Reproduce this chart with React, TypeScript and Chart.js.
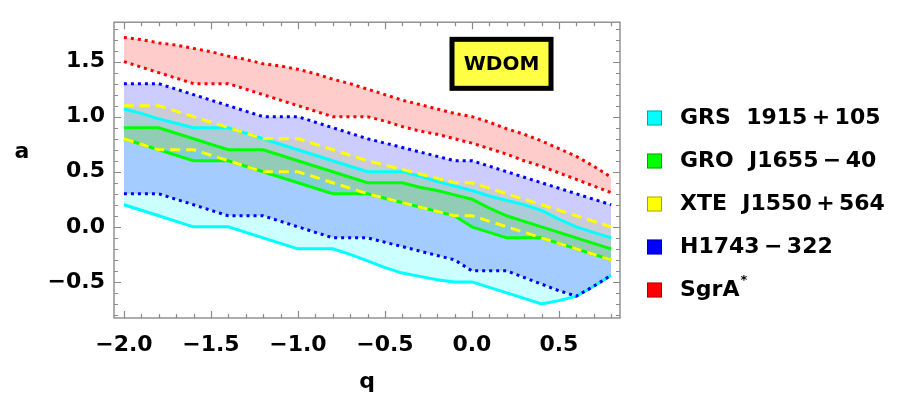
import React, { useEffect, useRef } from 'react';
import { Chart, registerables } from 'chart.js';

Chart.register(...registerables);

// ---------------- data ----------------
const qValues = [-2.0, -1.9, -1.8, -1.7, -1.6, -1.5, -1.4, -1.3, -1.2, -1.1, -1.0, -0.9, -0.8, -0.7, -0.6, -0.5, -0.4, -0.3, -0.2, -0.1, 0.0, 0.1, 0.2, 0.3, 0.4, 0.5, 0.6, 0.7, 0.8];

const grsUpper = [1.07, 1.03, 0.98, 0.94, 0.9, 0.9, 0.9, 0.85, 0.8, 0.75, 0.7, 0.65, 0.6, 0.55, 0.5, 0.5, 0.5, 0.46, 0.41, 0.37, 0.33, 0.28, 0.24, 0.2, 0.15, 0.07, 0.0, -0.05, -0.1];
const grsLower = [0.2, 0.15, 0.1, 0.05, 0.0, 0.0, 0.0, -0.05, -0.1, -0.15, -0.2, -0.2, -0.2, -0.25, -0.31, -0.37, -0.42, -0.45, -0.48, -0.5, -0.5, -0.55, -0.6, -0.65, -0.7, -0.67, -0.63, -0.54, -0.44];

const groUpper = [0.9, 0.9, 0.9, 0.85, 0.8, 0.75, 0.7, 0.7, 0.7, 0.65, 0.6, 0.55, 0.5, 0.45, 0.4, 0.4, 0.4, 0.36, 0.33, 0.29, 0.25, 0.17, 0.1, 0.05, 0.0, -0.05, -0.1, -0.15, -0.2];
const groLower = [0.8, 0.75, 0.7, 0.65, 0.6, 0.6, 0.6, 0.55, 0.5, 0.45, 0.4, 0.35, 0.3, 0.3, 0.3, 0.26, 0.22, 0.18, 0.14, 0.1, 0.0, -0.05, -0.1, -0.1, -0.1, -0.15, -0.2, -0.25, -0.3];

const xteUpper = [1.1, 1.1, 1.1, 1.05, 1.0, 0.95, 0.9, 0.85, 0.8, 0.8, 0.8, 0.75, 0.7, 0.65, 0.6, 0.56, 0.52, 0.48, 0.44, 0.4, 0.4, 0.35, 0.3, 0.25, 0.2, 0.15, 0.1, 0.05, 0.0];
const xteLower = [0.8, 0.75, 0.7, 0.7, 0.7, 0.65, 0.6, 0.55, 0.5, 0.5, 0.5, 0.45, 0.4, 0.35, 0.3, 0.26, 0.22, 0.18, 0.14, 0.1, 0.1, 0.05, 0.0, -0.05, -0.1, -0.15, -0.2, -0.25, -0.3];

const h1743Upper = [1.3, 1.3, 1.3, 1.25, 1.2, 1.15, 1.1, 1.05, 1.0, 1.0, 1.0, 0.95, 0.9, 0.85, 0.8, 0.76, 0.72, 0.68, 0.64, 0.6, 0.6, 0.55, 0.5, 0.45, 0.4, 0.35, 0.3, 0.25, 0.2];
const h1743Lower = [0.3, 0.3, 0.3, 0.25, 0.2, 0.15, 0.1, 0.1, 0.1, 0.05, 0.0, -0.05, -0.1, -0.1, -0.1, -0.14, -0.18, -0.22, -0.26, -0.3, -0.4, -0.4, -0.4, -0.46, -0.52, -0.58, -0.63, -0.54, -0.44];

const sgrUpper = [1.72, 1.7, 1.67, 1.65, 1.62, 1.59, 1.55, 1.52, 1.48, 1.46, 1.43, 1.39, 1.34, 1.3, 1.25, 1.2, 1.15, 1.11, 1.07, 1.03, 1.0, 0.95, 0.89, 0.84, 0.78, 0.71, 0.64, 0.55, 0.45];
const sgrLower = [1.5, 1.45, 1.4, 1.35, 1.3, 1.3, 1.3, 1.25, 1.2, 1.15, 1.1, 1.05, 1.0, 1.0, 1.0, 0.96, 0.91, 0.87, 0.84, 0.8, 0.76, 0.71, 0.66, 0.6, 0.55, 0.49, 0.43, 0.37, 0.31];

const legendNames = ['GRS  1915\u2009+\u2009105', 'GRO  J1655\u2009\u2212\u200940', 'XTE  J1550\u2009+\u2009564', 'H1743\u2009\u2212\u2009322', 'SgrA'];
const legendColors = ['#00FFFF', '#00FF00', '#FFFF00', '#0000FF', '#FF0000'];
const fillColors = ['rgba(0,255,255,0.2)', 'rgba(0,255,0,0.2)', 'rgba(255,255,0,0.2)', 'rgba(0,0,255,0.2)', 'rgba(255,0,0,0.2)'];

const xTitle = 'q';
const yTitle = 'a';
const boxLabel = 'WDOM';

const FONT = '"DejaVu Sans", sans-serif';

function pts(arr: number[]) {
  return arr.map((a, i) => ({ x: qValues[i], y: a }));
}

function band(idx: number, upper: number[], lower: number[], dash: number[]) {
  const common = {
    borderColor: legendColors[idx],
    borderWidth: 3,
    borderDash: dash,
    borderCapStyle: 'butt' as const,
    pointRadius: 0,
    tension: 0,
  };
  return [
    { ...common, label: legendNames[idx], data: pts(upper), backgroundColor: fillColors[idx], fill: '+1' },
    { ...common, label: legendNames[idx] + ' (lower)', data: pts(lower), fill: false },
  ];
}

const fmt = (v: number) => {
  const r = Math.round(v * 10) / 10;
  const s = Math.abs(r).toFixed(1);
  return r < 0 ? '\u2212' + s : s;
};

const decor = {
  id: 'decor',
  afterDatasetsDraw(chart: any) {
    const { ctx, chartArea: ca, scales } = chart;
    const xs = scales.x;
    const ys = scales.y;
    ctx.save();
    ctx.strokeStyle = '#8a8a8a';
    ctx.lineWidth = 1.4;
    ctx.strokeRect(ca.left, ca.top, ca.right - ca.left, ca.bottom - ca.top);
    ctx.lineWidth = 1.2;
    ctx.beginPath();
    for (let i = -20; i <= 8; i++) {
      const px = Math.round(xs.getPixelForValue(i / 10)) + 0.5;
      const len = i % 5 === 0 ? 7 : 4;
      ctx.moveTo(px, ca.bottom);
      ctx.lineTo(px, ca.bottom - len);
      ctx.moveTo(px, ca.top);
      ctx.lineTo(px, ca.top + len);
    }
    for (let i = -8; i <= 18; i++) {
      const py = Math.round(ys.getPixelForValue(i / 10)) + 0.5;
      const len = i % 5 === 0 ? 7 : 4;
      ctx.moveTo(ca.left, py);
      ctx.lineTo(ca.left + len, py);
      ctx.moveTo(ca.right, py);
      ctx.lineTo(ca.right - len, py);
    }
    ctx.stroke();

    // WDOM box
    const cx = xs.getPixelForValue(0.17);
    const cy = ys.getPixelForValue(1.48);
    const bw = 104;
    const bh = 54;
    ctx.fillStyle = '#000000';
    ctx.fillRect(cx - bw / 2, cy - bh / 2, bw, bh);
    ctx.fillStyle = '#FFFF44';
    ctx.fillRect(cx - bw / 2 + 5, cy - bh / 2 + 5, bw - 10, bh - 10);
    ctx.fillStyle = '#000000';
    ctx.font = `bold 20px ${FONT}`;
    ctx.textAlign = 'center';
    ctx.textBaseline = 'middle';
    ctx.fillText(boxLabel, cx, cy + 1);
    ctx.restore();
  },
  afterDraw(chart: any) {
    const { ctx, chartArea: ca } = chart;
    ctx.save();
    ctx.fillStyle = '#000000';
    ctx.font = `bold 22px ${FONT}`;
    ctx.textAlign = 'center';
    ctx.textBaseline = 'middle';
    ctx.fillText(xTitle, (ca.left + ca.right) / 2, 382);
    ctx.fillText(yTitle, 22, 152);

    // legend
    const x0 = ca.right + 27;
    const rowY = 118;
    const step = 43;
    legendNames.forEach((name, i) => {
      const y = rowY + i * step;
      ctx.fillStyle = legendColors[i];
      ctx.fillRect(x0, y - 7.5, 15, 15);
      ctx.strokeStyle = 'rgba(0,0,0,0.35)';
      ctx.lineWidth = 1;
      ctx.strokeRect(x0 + 0.5, y - 7, 14, 14);
      ctx.fillStyle = '#000000';
      ctx.font = `bold 22px ${FONT}`;
      ctx.textAlign = 'left';
      ctx.textBaseline = 'middle';
      ctx.fillText(name, x0 + 33, y);
      if (i === 4) {
        const w = ctx.measureText(name).width;
        ctx.font = `bold 13px ${FONT}`;
        ctx.fillText('*', x0 + 33 + w + 1, y - 9);
      }
    });
    ctx.restore();
  },
};

export default function App() {
  const ref = useRef<HTMLCanvasElement>(null);
  useEffect(() => {
    if (!ref.current) return;
    Chart.defaults.font.family = FONT;
    const datasets = [
      ...band(4, sgrUpper, sgrLower, [3, 4]),
      ...band(3, h1743Upper, h1743Lower, [3, 4]),
      ...band(2, xteUpper, xteLower, [10, 6]),
      ...band(1, groUpper, groLower, []),
      ...band(0, grsUpper, grsLower, []),
    ];
    const chart = new Chart(ref.current, {
      type: 'line',
      data: { datasets: datasets as any },
      options: {
        animation: false,
        responsive: true,
        maintainAspectRatio: false,
        layout: { padding: { left: 0, top: 5, right: 279, bottom: 0 } },
        plugins: {
          legend: { display: false },
          tooltip: { enabled: false },
          filler: { propagate: false, drawTime: 'beforeDatasetsDraw' },
        } as any,
        scales: {
          x: {
            type: 'linear',
            min: -2.057,
            max: 0.851,
            grid: { display: false, drawTicks: false },
            border: { display: false },
            afterFit: (s: any) => { s.height = 87; },
            ticks: {
              stepSize: 0.5,
              includeBounds: false,
              padding: 14,
              color: '#000000',
              font: { size: 22, weight: 'bold', family: FONT },
              maxRotation: 0,
              autoSkip: false,
              callback: (v: any) => fmt(Number(v)),
            },
          },
          y: {
            type: 'linear',
            min: -0.828,
            max: 1.858,
            grid: { display: false, drawTicks: false },
            border: { display: false },
            afterFit: (s: any) => { s.width = 114; },
            ticks: {
              stepSize: 0.5,
              includeBounds: false,
              padding: 9,
              color: '#000000',
              font: { size: 22, weight: 'bold', family: FONT },
              autoSkip: false,
              callback: (v: any) => fmt(Number(v)),
            },
          },
        },
      },
      plugins: [decor],
    });
    return () => chart.destroy();
  }, []);
  return (
    <div style={{ position: 'absolute', left: 0, top: 0, width: 899, height: 405, background: '#ffffff' }}>
      <canvas ref={ref} />
    </div>
  );
}
